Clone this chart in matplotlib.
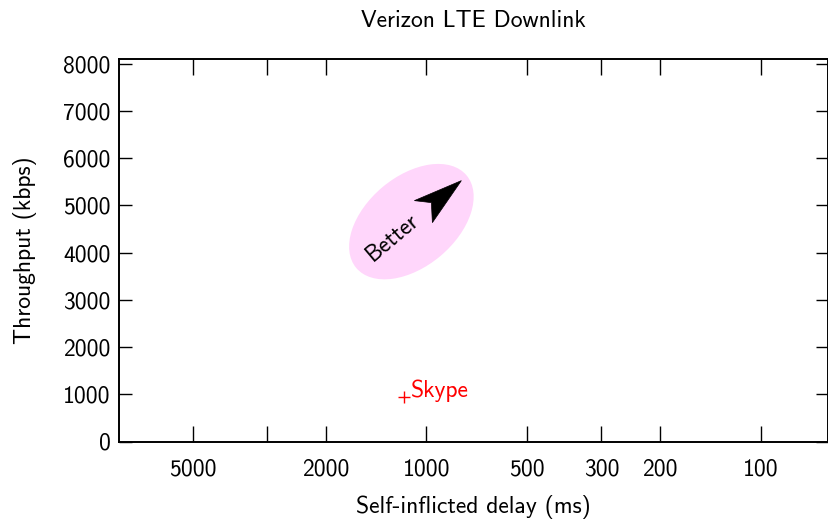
import matplotlib.pyplot as plt
import matplotlib.transforms as mtransforms
from matplotlib.patches import Ellipse, PathPatch
from matplotlib.path import Path
from matplotlib.ticker import FixedLocator, FixedFormatter, NullLocator

plt.rcParams['font.family'] = ['cmss10', 'DejaVu Sans']
plt.rcParams['axes.unicode_minus'] = False

# data
schemes = ['Skype']
delay_ms = [1170]
throughput_kbps = [940]

xticks = [5000, 3000, 2000, 1000, 500, 300, 200, 100]
xticklabels = ['5000', '', '2000', '1000', '500', '300', '200', '100']
yticks = [0, 1000, 2000, 3000, 4000, 5000, 6000, 7000, 8000]

# "better" hint region
better_center = (1109, 4656)

FS = 17

fig = plt.figure(figsize=(8.29, 5.19), dpi=100)
ax = fig.add_axes([119/829, 1 - 441.5/519, (828 - 119)/829, (441.5 - 59)/519])

ax.set_xscale('log')
ax.set_xlim(8300, 63)
ax.set_ylim(0, 8100)

# pink ellipse + arrowhead, sized in pixels around a data anchor
anchor = mtransforms.ScaledTranslation(better_center[0], better_center[1], ax.transData)
ell = Ellipse((0, 0), 144 / 100, 90 / 100, angle=40, facecolor='#ffd6fb',
              edgecolor='none', transform=fig.dpi_scale_trans + anchor, zorder=1)
ax.add_patch(ell)

head = [(50, 41), (3, 21), (20, 19), (21, -1), (50, 41)]
head = [(px / 100, py / 100) for px, py in head]
codes = [Path.MOVETO, Path.LINETO, Path.LINETO, Path.LINETO, Path.CLOSEPOLY]
ax.add_patch(PathPatch(Path(head, codes), facecolor='black', edgecolor='black',
                       lw=0.5, transform=fig.dpi_scale_trans + anchor, zorder=2))

ax.text(-19 / 100, -16 / 100, 'Better', rotation=40, ha='center', va='center',
        fontsize=FS, transform=fig.dpi_scale_trans + anchor, zorder=3,
        rotation_mode='anchor')

ax.plot(delay_ms, throughput_kbps, '+', color='red', ms=8, mew=1.0, zorder=4)
for name, x, y in zip(schemes, delay_ms, throughput_kbps):
    ax.annotate(name, (x, y), xytext=(5, 0), textcoords='offset points',
                color='red', fontsize=FS, va='baseline', ha='left')

ax.xaxis.set_major_locator(FixedLocator(xticks))
ax.xaxis.set_major_formatter(FixedFormatter(xticklabels))
ax.xaxis.set_minor_locator(NullLocator())
ax.set_yticks(yticks)

ax.tick_params(axis='x', which='major', direction='in', length=11.5, width=1,
               top=True, bottom=True, labelsize=FS, pad=12)
ax.tick_params(axis='y', which='major', direction='in', length=9, width=1,
               left=True, right=True, labelsize=FS, pad=6)
for s in ax.spines.values():
    s.set_linewidth(1.4)

ax.set_xlabel('Self-inflicted delay (ms)', fontsize=FS, labelpad=11)
ax.set_ylabel('Throughput (kbps)', fontsize=FS, labelpad=19)
ax.set_title('Verizon LTE Downlink', fontsize=FS, pad=23)

fig.savefig('out.png', dpi=100)
